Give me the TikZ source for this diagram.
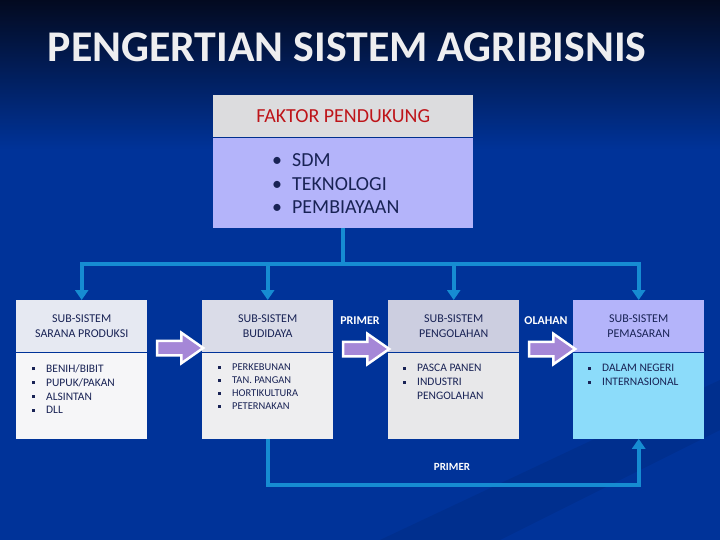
\documentclass[tikz,border=0pt]{standalone}
\usepackage{fontspec}
\setmainfont{Carlito}
\usetikzlibrary{arrows.meta,positioning,calc,shapes.arrows}
\definecolor{BgBlue}{RGB}{0,51,153}
\definecolor{BgTop}{RGB}{3,10,32}
\definecolor{LineBlue}{RGB}{22,140,210}
\definecolor{TxtNavy}{RGB}{25,35,85}
\definecolor{FactRed}{RGB}{190,20,25}
\definecolor{FactHead}{RGB}{220,220,222}
\definecolor{FactBody}{RGB}{180,180,250}
\definecolor{HeadA}{RGB}{230,233,242}
\definecolor{BodyA}{RGB}{246,246,248}
\definecolor{HeadB}{RGB}{218,220,232}
\definecolor{BodyB}{RGB}{238,238,240}
\definecolor{HeadC}{RGB}{204,206,224}
\definecolor{BodyC}{RGB}{232,232,234}
\definecolor{HeadD}{RGB}{180,180,250}
\definecolor{BodyD}{RGB}{140,220,250}
\definecolor{ArrPurple}{RGB}{165,135,215}
\definecolor{TitleGray}{RGB}{238,238,240}
\newcommand{\sqb}{\makebox[14bp][l]{\rule[2bp]{3bp}{3bp}}}
\newcommand{\rdb}{\makebox[20bp][l]{\textbullet}}
\tikzset{
  facthead/.style={anchor=north west,fill=FactHead,minimum width=260bp,minimum height=42bp,inner sep=0pt,text=FactRed,font=\fontsize{20}{24}\selectfont},
  factbody/.style={fill=FactBody,minimum width=260bp,minimum height=90bp,inner sep=0pt},
  subhead/.style={anchor=north west,minimum width=131bp,minimum height=52bp,inner sep=0pt,align=center,text=TxtNavy,font=\fontsize{12}{15}\selectfont},
  subbody/.style={minimum width=131bp,minimum height=86bp,inner sep=0pt},
  itemlist/.style={anchor=north west,inner sep=0pt,align=left,text=TxtNavy,font=\fontsize{11.5}{14}\selectfont},
  feed/.style={draw=LineBlue,line width=4bp,-{Triangle[width=13bp,length=10bp]}},
  link/.style={draw=LineBlue,line width=4bp},
  flow/.style={single arrow,draw=white,line width=2.5bp,fill=ArrPurple,minimum height=46bp,inner xsep=0pt,inner ysep=6bp,single arrow head extend=8bp,single arrow tip angle=70},
  tag/.style={text=white,font=\bfseries\fontsize{12}{14}\selectfont}
}
\begin{document}
\begin{tikzpicture}[x=1bp,y=-1bp]
\useasboundingbox (0,0) rectangle (720,540);
% background
\shade[top color=BgTop,bottom color=BgBlue] (0,0) rectangle (720,150);
\fill[BgBlue] (0,150) rectangle (720,540);
\fill[black,opacity=0.07] (380,540) -- (720,380) -- (720,430) -- (500,540) -- cycle;

\node[text=TitleGray,font=\bfseries\fontsize{44}{52}\selectfont] (title) at (347,47) {PENGERTIAN SISTEM AGRIBISNIS};

% faktor pendukung
\node[facthead] (fakhead) at (213,95) {FAKTOR PENDUKUNG};
\node[factbody,below=0pt of fakhead] (fakbody) {};
\node[itemlist,font=\fontsize{20}{24}\selectfont] (faklist) at (272,153) {\rdb SDM\\ \rdb TEKNOLOGI\\ \rdb PEMBIAYAAN};

% sub-sistem
\node[subhead,fill=HeadA] (head1) at (16,300) {SUB-SISTEM\\SARANA PRODUKSI};
\node[subbody,fill=BodyA,below=0pt of head1] (body1) {};
\node[subhead,fill=HeadB] (head2) at (202,300) {SUB-SISTEM\\BUDIDAYA};
\node[subbody,fill=BodyB,below=0pt of head2] (body2) {};
\node[subhead,fill=HeadC] (head3) at (388,300) {SUB-SISTEM\\PENGOLAHAN};
\node[subbody,fill=BodyC,below=0pt of head3] (body3) {};
\node[subhead,fill=HeadD] (head4) at (573,300) {SUB-SISTEM\\PEMASARAN};
\node[subbody,fill=BodyD,below=0pt of head4] (body4) {};

\node[itemlist] (list1) at (32,364) {\sqb BENIH/BIBIT\\ \sqb PUPUK/PAKAN\\ \sqb ALSINTAN\\ \sqb DLL};
\node[itemlist,font=\fontsize{10.5}{13}\selectfont] (list2) at (218,364) {\sqb PERKEBUNAN\\ \sqb TAN. PANGAN\\ \sqb HORTIKULTURA\\ \sqb PETERNAKAN};
\node[itemlist] (list3) at (403,364) {\sqb PASCA PANEN\\ \sqb INDUSTRI\\ \hspace*{14bp}PENGOLAHAN};
\node[itemlist] (list4) at (588,364) {\sqb DALAM NEGERI\\ \sqb INTERNASIONAL};

% block arrows
\node[flow] (flow1) at (175,348) {};
\node[flow] (flow2) at (361,349) {};
\node[flow] (flow3) at (547,349) {};
\node[tag] (primer) at (360,321) {PRIMER};
\node[tag] (olahan) at (546,321) {OLAHAN};

% connectors
\draw[link] (fakbody.south) -- ++(0,36) coordinate (hub);
\draw[feed] (hub) -| (head1.north);
\draw[feed] (hub) -| (head2.north);
\draw[feed] (hub) -| (head3.north);
\draw[feed] (hub) -| (head4.north);
\draw[feed] (body2.south) -- ++(0,46) coordinate (turn) -| (body4.south);
\node[tag,font=\bfseries\fontsize{11}{13}\selectfont] (primer2) at (452,467) {PRIMER};
\end{tikzpicture}
\end{document}
